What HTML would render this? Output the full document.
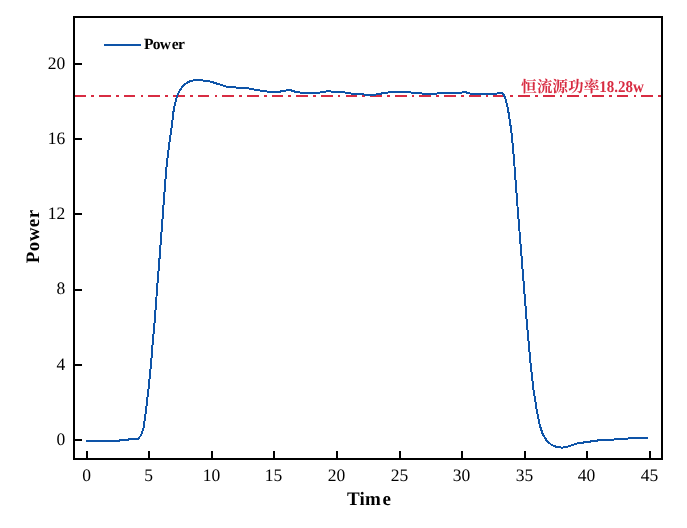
<!DOCTYPE html>
<html><head><meta charset="utf-8"><title>Power</title>
<style>
html,body{margin:0;padding:0;background:#fff;}
svg{display:block;text-rendering:geometricPrecision;font-family:"Liberation Serif","Noto Serif CJK SC",serif;}
.t{font-size:17.5px;text-rendering:geometricPrecision;fill:#000;}
.b{font-weight:bold;fill:#000;}
</style></head><body>
<svg width="687" height="528" viewBox="0 0 687 528">
<rect width="687" height="528" fill="#fff"/>
<line x1="74.35" y1="96" x2="661" y2="96" stroke="#d82c42" stroke-width="2" stroke-dasharray="11.8 5.1 2.7 5.05" shape-rendering="crispEdges"/>
<polyline points="86,441 119.5,441 120,440 128,440 128.5,439 138,439 139.1,437.7 140.8,435.5 142.5,431.4 143.8,427 144.4,422.3 145.9,410.9 148.6,388.2 150.9,365.5 152.7,342.7 154.8,320 157,290 159.4,260 161.7,230 163.9,200 166.5,166.8 168.3,152 169.9,138.4 171.9,126 173.1,114 174.6,105.3 177.2,95.8 180.4,89.3 184.7,84.2 189.1,81.6 192.8,80.5 197.8,79.9 202.9,80.5 210.2,81.5 215.3,83.1 222.6,85.4 227,86.8 234.2,87.4 241.5,87.8 247.3,88.1 254.4,89.5 260.2,90.5 266.7,91.5 273.6,92.15 280.6,91.5 285.7,90.5 288.6,89.85 291.5,90.5 294.4,91.5 300.2,92.5 310.4,93.15 320.6,92.5 325.7,91.5 328.2,90.85 330.8,91.5 344.6,92.5 351.0,93.5 364.0,94.5 369.9,95.15 375.7,94.5 381.5,93.5 388.0,92.5 399.3,91.85 410.6,92.5 421.5,93.5 429.4,94.15 437.4,93.5 462.0,92.5 464.2,91.85 466.4,92.5 470.0,93.5 483.5,94.15 497.0,93.5 502.8,93.2 504,95.1 505.2,98 506,100.5 507.5,107 508.8,114 510,122 511.2,130 513.2,150 515,172.7 517,200 521,250 525,300 526.6,320 530.2,360 533.5,390 534.9,398 536.2,407.2 537.9,416.5 539.9,425.8 542.6,433.8 546.5,440.4 551.8,445.1 556.5,446.8 561.8,447.7 567.1,446.8 573.1,444.7 578.4,443.2 583.5,442.5 590.5,441.5 597.5,440.5 613.8,439.5 627.7,438.5 640,438.1 648,438" fill="none" stroke="#0e54a8" stroke-width="2" stroke-linejoin="round" shape-rendering="crispEdges"/>
<rect x="74" y="17" width="588" height="442" fill="none" stroke="#000" stroke-width="2" shape-rendering="crispEdges"/>
<g fill="#000" shape-rendering="crispEdges"><rect x="86" y="451" width="2" height="7"/><rect x="148" y="451" width="2" height="7"/><rect x="211" y="451" width="2" height="7"/><rect x="273" y="451" width="2" height="7"/><rect x="336" y="451" width="2" height="7"/><rect x="399" y="451" width="2" height="7"/><rect x="461" y="451" width="2" height="7"/><rect x="524" y="451" width="2" height="7"/><rect x="586" y="451" width="2" height="7"/><rect x="649" y="451" width="2" height="7"/><rect x="75" y="439" width="7" height="2"/><rect x="75" y="364" width="7" height="2"/><rect x="75" y="289" width="7" height="2"/><rect x="75" y="213" width="7" height="2"/><rect x="75" y="138" width="7" height="2"/><rect x="75" y="63" width="7" height="2"/></g>
<g class="t"><text x="86.6" y="481" text-anchor="middle">0</text><text x="148.6" y="481" text-anchor="middle">5</text><text x="211.6" y="481" text-anchor="middle">10</text><text x="273.6" y="481" text-anchor="middle">15</text><text x="336.6" y="481" text-anchor="middle">20</text><text x="399.6" y="481" text-anchor="middle">25</text><text x="461.6" y="481" text-anchor="middle">30</text><text x="524.6" y="481" text-anchor="middle">35</text><text x="586.6" y="481" text-anchor="middle">40</text><text x="649.6" y="481" text-anchor="middle">45</text><text x="65.3" y="444.7" text-anchor="end">0</text><text x="65.3" y="369.5" text-anchor="end">4</text><text x="65.3" y="294.3" text-anchor="end">8</text><text x="65.3" y="219.1" text-anchor="end">12</text><text x="65.3" y="143.9" text-anchor="end">16</text><text x="65.3" y="68.7" text-anchor="end">20</text></g>
<line x1="104" y1="45" x2="141" y2="45" stroke="#0e54a8" stroke-width="2" shape-rendering="crispEdges"/>
<text class="b" x="144" y="48.7" font-size="15.5" letter-spacing="-0.7">Pow<tspan dx="1.5">er</tspan></text>
<text class="b" x="346.9" y="505" font-size="19" letter-spacing="0.2">Tim<tspan dx="1.6">e</tspan></text>
<text class="b" transform="translate(38.7,263.2) rotate(-90)" font-size="19" letter-spacing="0.4">Power</text>
<text x="521" y="92" font-size="15.7" font-weight="bold" fill="#d82c42">恒流源功率</text><text transform="translate(599.2,91.7) scale(0.915,1)" font-size="16.4" font-weight="bold" fill="#d82c42">18.28w</text>
</svg>
</body></html>
